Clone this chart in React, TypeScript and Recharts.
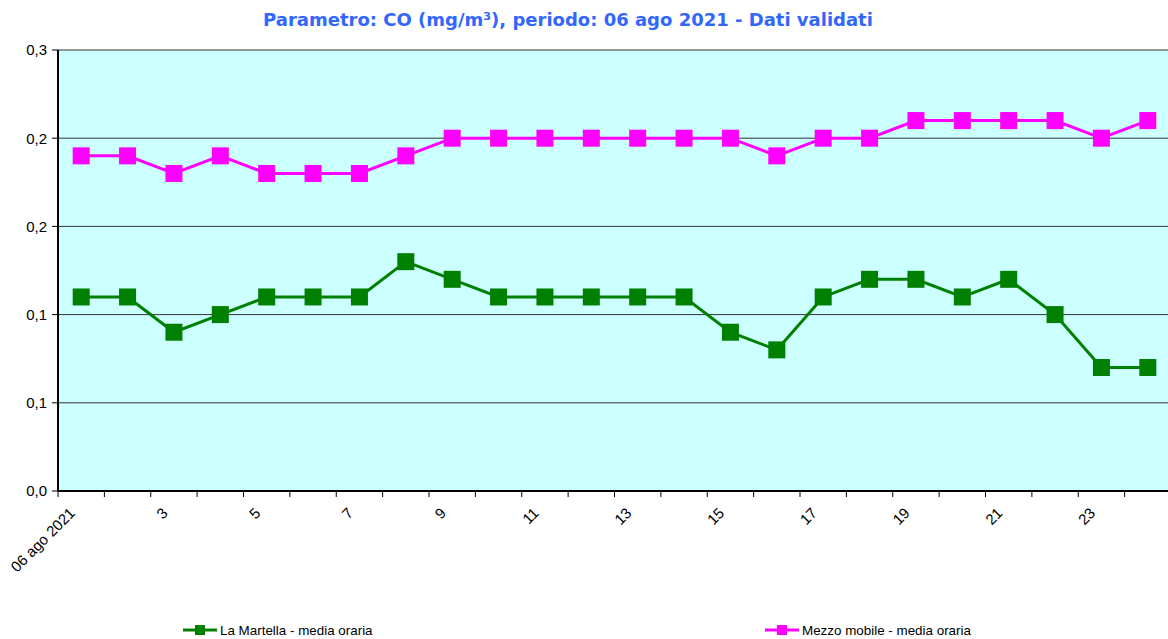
import { LineChart, Line, XAxis, YAxis, CartesianGrid } from "recharts";

const hours = [1, 2, 3, 4, 5, 6, 7, 8, 9, 10, 11, 12, 13, 14, 15, 16, 17, 18, 19, 20, 21, 22, 23, 24];
const laMartella = [
  0.11, 0.11, 0.09, 0.1, 0.11, 0.11, 0.11, 0.13, 0.12, 0.11, 0.11, 0.11,
  0.11, 0.11, 0.09, 0.08, 0.11, 0.12, 0.12, 0.11, 0.12, 0.1, 0.07, 0.07,
];
const mezzoMobile = [
  0.19, 0.19, 0.18, 0.19, 0.18, 0.18, 0.18, 0.19, 0.2, 0.2, 0.2, 0.2,
  0.2, 0.2, 0.2, 0.19, 0.2, 0.2, 0.21, 0.21, 0.21, 0.21, 0.2, 0.21,
];
const xTickLabels = [
  "06 ago 2021", "", "3", "", "5", "", "7", "", "9", "", "11", "",
  "13", "", "15", "", "17", "", "19", "", "21", "", "23", "",
];
const yTicks = [0, 0.05, 0.1, 0.15, 0.2, 0.25];
const yTickLabels = ["0,0", "0,1", "0,1", "0,2", "0,2", "0,3"];

const title = "Parametro: CO (mg/m³), periodo: 06 ago 2021 - Dati validati";
const seriesNames = ["La Martella - media oraria", "Mezzo mobile - media oraria"];

const GREEN = "#008000";
const MAGENTA = "#FF00FF";
const FONT = "'Liberation Sans', Arial, sans-serif";

// x = hour - 0.5 so points sit in the middle of each hour slot
const data = hours.map((h, i) => ({
  x: h - 0.5,
  martella: laMartella[i],
  mezzo: mezzoMobile[i],
}));

const squareDot = (color: string) => (props: any) => {
  const { cx, cy, index } = props;
  return <rect key={index} x={cx - 8.5} y={cy - 8.5} width={17} height={17} fill={color} />;
};

const XTick = (props: any) => {
  const { x, y, payload } = props;
  const label = xTickLabels[payload.value] ?? "";
  const tx = x + 18;
  const ty = y + 17;
  return (
    <text
      x={tx}
      y={ty}
      transform={`rotate(-45 ${tx} ${ty})`}
      textAnchor="end"
      fontSize={15}
      fontFamily={FONT}
      fill="#000"
    >
      {label}
    </text>
  );
};

function LegendItem({ left, color, text }: { left: number; color: string; text: string }) {
  return (
    <div style={{ position: "absolute", left, top: 622, height: 16, display: "flex", alignItems: "center" }}>
      <svg width={34} height={16}>
        <line x1={0} y1={8} x2={34} y2={8} stroke={color} strokeWidth={3} />
        <rect x={12} y={3} width={10} height={10} fill={color} />
      </svg>
      <span style={{ fontFamily: FONT, fontSize: 13.4, color: "#000", marginLeft: 3 }}>{text}</span>
    </div>
  );
}

export default function App() {
  return (
    <div style={{ position: "fixed", left: 0, top: 0, width: 1168, height: 639, overflow: "hidden", background: "#fff" }}>
      <div
        style={{
          position: "absolute",
          left: 0,
          width: 1136,
          top: 9,
          textAlign: "center",
          fontFamily: "'DejaVu Sans', Verdana, sans-serif",
          fontWeight: "bold",
          fontSize: 18,
          color: "#3366FF",
        }}
      >
        {title}
      </div>
      <LineChart
        width={1180}
        height={639}
        data={data}
        margin={{ top: 50, right: 9, bottom: 88, left: 0 }}
      >
        <CartesianGrid vertical={false} stroke="#333" fill="#CCFFFF" />
        <XAxis
          dataKey="x"
          type="number"
          domain={[0, 24]}
          ticks={hours.map((h) => h - 1)}
          interval={0}
          height={60}
          tickSize={6}
          tickMargin={0}
          axisLine={{ stroke: "#000", strokeWidth: 2 }}
          tickLine={{ stroke: "#000" }}
          tick={<XTick />}
        />
        <YAxis
          type="number"
          domain={[0, 0.25]}
          ticks={yTicks}
          interval={0}
          width={58}
          tickSize={6}
          tickMargin={5}
          axisLine={{ stroke: "#000", strokeWidth: 2 }}
          tickLine={{ stroke: "#000" }}
          tick={{ fill: "#000", fontSize: 15, fontFamily: FONT }}
          tickFormatter={(v: number) => yTickLabels[yTicks.indexOf(v)] ?? ""}
        />
        <Line
          dataKey="martella"
          name={seriesNames[0]}
          type="linear"
          stroke={GREEN}
          strokeWidth={3}
          dot={squareDot(GREEN)}
          isAnimationActive={false}
        />
        <Line
          dataKey="mezzo"
          name={seriesNames[1]}
          type="linear"
          stroke={MAGENTA}
          strokeWidth={3}
          dot={squareDot(MAGENTA)}
          isAnimationActive={false}
        />
      </LineChart>
      <LegendItem left={183} color={GREEN} text={seriesNames[0]} />
      <LegendItem left={765} color={MAGENTA} text={seriesNames[1]} />
    </div>
  );
}
